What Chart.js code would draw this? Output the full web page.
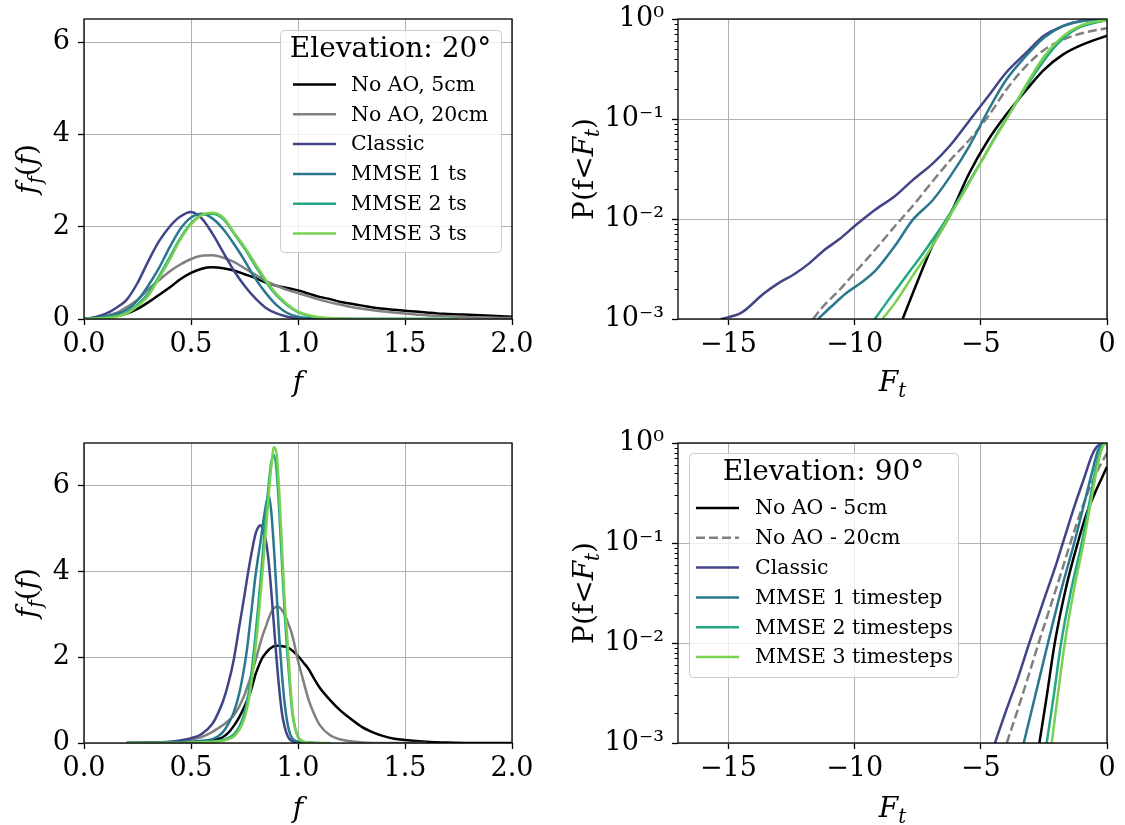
<!DOCTYPE html>
<html>
<head>
<meta charset="utf-8">
<script src="https://cdn.jsdelivr.net/npm/chart.js@4.4.1/dist/chart.umd.min.js"></script>
<style>
  html, body { margin: 0; padding: 0; background: #fff; }
  #wrap { position: relative; width: 1125px; height: 825px; }
  canvas { position: absolute; }
</style>
</head>
<body>
<div id="wrap">
  <canvas id="pdf20" width="562" height="412" style="left:0;top:0"></canvas>
  <canvas id="cdf20" width="563" height="412" style="left:562px;top:0"></canvas>
  <canvas id="pdf90" width="562" height="413" style="left:0;top:412px"></canvas>
  <canvas id="cdf90" width="563" height="413" style="left:562px;top:412px"></canvas>
</div>
<script>
// Legend names and colours (black, grey, then viridis picks for the AO cases)
const names20 = ["No AO, 5cm", "No AO, 20cm", "Classic", "MMSE 1 ts", "MMSE 2 ts", "MMSE 3 ts"];
const names90 = ["No AO - 5cm", "No AO - 20cm", "Classic", "MMSE 1 timestep", "MMSE 2 timesteps", "MMSE 3 timesteps"];
const seriesColors = ["#000000", "#808080", "#414487", "#2a788e", "#22a884", "#7ad151"];

// Tick values
const pdfXTicks = [0, 0.5, 1.0, 1.5, 2.0];
const pdfYTicks = [0, 2, 4, 6];
const cdfXTicks = [-15, -10, -5, 0];
const cdfYTicks = [0.001, 0.01, 0.1, 1];

// ---- PDF, elevation 20 deg ----
const pdfGrid20 = [0.00, 0.05, 0.10, 0.15, 0.20, 0.25, 0.30, 0.35, 0.40, 0.45, 0.50, 0.55, 0.60, 0.65, 0.70, 0.75, 0.80, 0.85, 0.90, 0.95,
  1.00, 1.05, 1.10, 1.15, 1.20, 1.25, 1.30, 1.35, 1.40, 1.45, 1.50, 1.55, 1.60, 1.65, 1.70, 1.75, 1.80, 1.85, 1.90, 1.95, 2.00];
const pdfBlack20 = [0, 0.02, 0.04, 0.07, 0.12, 0.22, 0.36, 0.52, 0.68, 0.86, 1.00, 1.09, 1.12, 1.10, 1.05, 0.97, 0.89, 0.79, 0.72, 0.67,
  0.62, 0.55, 0.48, 0.43, 0.37, 0.33, 0.29, 0.25, 0.22, 0.20, 0.18, 0.16, 0.14, 0.12, 0.11, 0.10, 0.09, 0.08, 0.07, 0.06, 0.05];
const pdfGray20 = [0, 0.02, 0.06, 0.13, 0.26, 0.42, 0.64, 0.84, 1.03, 1.18, 1.30, 1.37, 1.38, 1.33, 1.24, 1.10, 0.96, 0.82, 0.72, 0.63,
  0.56, 0.49, 0.42, 0.36, 0.31, 0.26, 0.22, 0.19, 0.16, 0.14, 0.12, 0.10, 0.08, 0.07, 0.06, 0.05, 0.04, 0.03, 0.03, 0.02, 0.02];
const pdfClassic20 = [0, 0.04, 0.11, 0.24, 0.42, 0.78, 1.25, 1.68, 2.00, 2.22, 2.32, 2.18, 1.85, 1.45, 1.05, 0.72, 0.45, 0.24, 0.12, 0.05,
  0.02, 0.01, 0, 0, 0, 0, null, null, null, null, null, null, null, null, null, null, null, null, null, null, null];
const pdfMmse1_20 = [0, 0.02, 0.05, 0.11, 0.20, 0.40, 0.72, 1.10, 1.55, 1.95, 2.20, 2.28, 2.18, 1.95, 1.63, 1.27, 0.88, 0.56, 0.30, 0.13,
  0.05, 0.02, 0.01, 0, 0, 0, 0, 0, 0, 0, 0, 0, 0, 0, 0, 0, null, null, null, null, null];
const pdfMmse2_20 = [0, 0.01, 0.03, 0.06, 0.14, 0.31, 0.55, 0.92, 1.33, 1.75, 2.07, 2.25, 2.28, 2.17, 1.86, 1.53, 1.16, 0.80, 0.51, 0.30,
  0.15, 0.07, 0.03, 0.01, 0, 0, 0, 0, 0, 0, 0, 0, 0, 0, 0, 0, null, null, null, null, null];
const pdfMmse3_20 = [0, 0.01, 0.02, 0.05, 0.12, 0.28, 0.50, 0.88, 1.28, 1.72, 2.05, 2.25, 2.30, 2.20, 1.88, 1.56, 1.20, 0.84, 0.54, 0.32,
  0.16, 0.08, 0.04, 0.02, 0.01, 0, 0, 0, 0, 0, 0, 0, 0, 0, 0, 0, null, null, null, null, null];

// ---- PDF, elevation 90 deg (bottom-left panel) ----
const pdfGrid90 = [0.20, 0.30, 0.40, 0.45, 0.50, 0.55, 0.60, 0.625, 0.65, 0.675, 0.70, 0.725, 0.75, 0.7625, 0.775, 0.7875,
  0.80, 0.8125, 0.825, 0.8375, 0.85, 0.8625, 0.875, 0.8875, 0.90, 0.9125, 0.925, 0.9375, 0.95, 0.9625, 0.975,
  1.00, 1.025, 1.05, 1.075, 1.10, 1.15, 1.20, 1.25, 1.30, 1.35, 1.40, 1.45, 1.50, 1.60, 1.70, 1.80, 1.90, 2.00];
const pdfBlack90 = [0, 0, 0.01, 0.01, 0.02, 0.03, 0.06, 0.09, 0.14, 0.24, 0.40, 0.60, 0.85, 1.00, 1.15, 1.35,
  1.58, 1.75, 1.90, 2.02, 2.10, 2.17, 2.22, 2.26, 2.27, 2.27, 2.26, 2.25, 2.23, 2.20, 2.15,
  2.03, 1.88, 1.72, 1.50, 1.30, 1.00, 0.75, 0.55, 0.37, 0.25, 0.16, 0.10, 0.07, 0.03, 0.01, 0, 0, 0];
const pdfGray90 = [0, 0.01, 0.02, 0.04, 0.08, 0.14, 0.26, 0.34, 0.42, 0.52, 0.65, 0.85, 1.12, 1.30, 1.48, 1.68,
  1.90, 2.12, 2.35, 2.55, 2.72, 2.90, 3.05, 3.14, 3.18, 3.17, 3.10, 3.00, 2.85, 2.68, 2.48,
  1.92, 1.45, 1.00, 0.68, 0.43, 0.18, 0.08, 0.04, 0.01, 0, 0, 0, 0, 0, null, null, null, null];
const pdfClassic90 = [0, 0.01, 0.03, 0.06, 0.11, 0.21, 0.45, 0.68, 0.98, 1.40, 1.95, 2.70, 3.45, 3.85, 4.22, 4.55,
  4.85, 5.02, 5.08, 4.95, 4.72, 4.25, 3.55, 2.75, 1.95, 1.25, 0.70, 0.38, 0.18, 0.08, 0.04,
  0.01, 0, 0, 0, null, null, null, null, null, null, null, null, null, null, null, null, null, null];
const pdfMmse1_90 = [0, 0, 0.01, 0.02, 0.03, 0.05, 0.09, 0.15, 0.26, 0.45, 0.72, 1.15, 1.80, 2.22, 2.75, 3.30,
  3.85, 4.30, 4.70, 5.15, 5.55, 5.80, 5.40, 4.55, 3.50, 2.45, 1.60, 0.93, 0.48, 0.22, 0.10,
  0.03, 0.01, 0, 0, null, null, null, null, null, null, null, null, null, null, null, null, null, null];
const pdfMmse2_90 = [0, 0, 0, 0, 0.01, 0.02, 0.03, 0.05, 0.07, 0.12, 0.20, 0.38, 0.70, 0.98, 1.35, 1.85,
  2.45, 3.10, 3.80, 4.55, 5.30, 6.00, 6.55, 6.72, 6.35, 5.40, 4.20, 3.05, 2.10, 1.30, 0.65,
  0.14, 0.03, 0.01, 0, 0, null, null, null, null, null, null, null, null, null, null, null, null, null];
const pdfMmse3_90 = [0, 0, 0, 0, 0.01, 0.02, 0.03, 0.04, 0.05, 0.09, 0.15, 0.30, 0.58, 0.82, 1.15, 1.60,
  2.15, 2.75, 3.45, 4.20, 4.95, 5.75, 6.45, 6.90, 6.75, 5.85, 4.60, 3.35, 2.45, 1.50, 0.70,
  0.15, 0.04, 0.01, 0, 0, 0, null, null, null, null, null, null, null, null, null, null, null, null];

// ---- CDF, elevation 20 deg (top-right panel): F_t and P(f<F_t) ----
const cdfBlack20F = [-8.1, -7.7, -7.2, -6.9, -6.3, -5.45, -4.7, -4.0, -3.2, -2.5, -1.75, -1.0, 0];
const cdfBlack20P = [0.001, 0.0018, 0.0037, 0.0055, 0.010, 0.029, 0.062, 0.11, 0.195, 0.31, 0.44, 0.55, 0.68];
const cdfGray20F = [-11.65, -11.2, -10.6, -10.0, -9.2, -8.4, -7.7, -6.9, -6.2, -5.45, -4.7, -4.0, -3.2, -2.5, -1.75, -1.0, 0];
const cdfGray20P = [0.001, 0.00138, 0.00195, 0.0029, 0.0049, 0.0085, 0.0135, 0.024, 0.039, 0.062, 0.107, 0.195, 0.34, 0.49, 0.62, 0.72, 0.81];
const cdfClassic20F = [-15.3, -14.5, -13.6, -13.0, -12.4, -11.8, -11.2, -10.6, -10.0, -9.2, -8.4, -7.7, -6.9, -6.2, -5.5, -4.7, -4.0, -3.2, -2.5, -1.75, -1.0, 0];
const cdfClassic20P = [0.001, 0.00115, 0.0018, 0.0023, 0.0028, 0.0036, 0.0049, 0.0063, 0.0085, 0.0123, 0.017, 0.0245, 0.036, 0.055, 0.093, 0.17, 0.29, 0.46, 0.68, 0.85, 0.96, 1.0];
const cdfMmse1_20F = [-11.45, -10.9, -10.35, -9.75, -9.15, -8.4, -7.7, -6.9, -6.2, -5.45, -4.7, -4.0, -3.2, -2.5, -1.75, -1.0, 0];
const cdfMmse1_20P = [0.001, 0.00135, 0.0018, 0.0023, 0.0031, 0.0054, 0.0098, 0.0155, 0.027, 0.054, 0.123, 0.245, 0.43, 0.65, 0.85, 0.95, 0.99];
const cdfMmse2_20F = [-9.2, -8.7, -8.0, -7.3, -6.5, -5.8, -5.0, -4.3, -3.6, -2.8, -2.0, -1.2, 0];
const cdfMmse2_20P = [0.001, 0.0015, 0.0026, 0.0045, 0.0088, 0.017, 0.037, 0.075, 0.145, 0.30, 0.55, 0.80, 0.98];
const cdfMmse3_20F = [-8.9, -8.4, -7.7, -7.0, -6.3, -5.5, -4.7, -4.0, -3.2, -2.5, -1.75, -1.0, 0];
const cdfMmse3_20P = [0.001, 0.00145, 0.0027, 0.0050, 0.0100, 0.022, 0.05, 0.098, 0.22, 0.42, 0.67, 0.87, 0.98];

// ---- CDF, elevation 90 deg (bottom-right panel) ----
const cdfBlack90F = [-2.68, -2.4, -2.07, -1.6, -1.16, -0.8, -0.4, -0.2, 0];
const cdfBlack90P = [0.001, 0.0028, 0.010, 0.038, 0.10, 0.20, 0.35, 0.45, 0.58];
const cdfGray90F = [-3.97, -3.5, -3.0, -2.71, -2.2, -1.8, -1.45, -1.0, -0.6, -0.3, 0];
const cdfGray90P = [0.001, 0.0023, 0.0058, 0.010, 0.025, 0.052, 0.10, 0.22, 0.40, 0.58, 0.79];
const cdfClassic90F = [-4.44, -4.0, -3.5, -3.08, -2.5, -2.0, -1.75, -1.25, -0.9, -0.6, -0.4, -0.2, 0];
const cdfClassic90P = [0.001, 0.0021, 0.0047, 0.010, 0.027, 0.063, 0.10, 0.25, 0.45, 0.75, 0.92, 0.98, 1.0];
const cdfMmse1_90F = [-3.3, -2.8, -2.34, -1.8, -1.3, -0.9, -0.6, -0.35, -0.15, 0];
const cdfMmse1_90P = [0.001, 0.0033, 0.010, 0.035, 0.10, 0.25, 0.50, 0.85, 0.98, 1.0];
const cdfMmse2_90F = [-2.39, -2.1, -1.82, -1.4, -1.0, -0.7, -0.45, -0.25, -0.1, 0];
const cdfMmse2_90P = [0.001, 0.0031, 0.010, 0.036, 0.10, 0.25, 0.55, 0.88, 0.98, 1.0];
const cdfMmse3_90F = [-2.19, -1.95, -1.67, -1.3, -0.93, -0.65, -0.4, -0.2, -0.08, 0];
const cdfMmse3_90P = [0.001, 0.003, 0.010, 0.035, 0.10, 0.25, 0.55, 0.88, 0.98, 1.0];

Chart.defaults.font.family = "'DejaVu Serif', serif";
Chart.defaults.color = "#000";

const LINE_W = 2.5;
const SUP = { "-": "\u207B", "0": "\u2070", "1": "\u00B9", "2": "\u00B2", "3": "\u00B3" };
function powLabel(v) {
  const e = Math.round(Math.log10(v));
  return "10" + String(e).split("").map((c) => SUP[c]).join("");
}

// Draw a label made of pieces: "" upright, "i" italic, "s" italic subscript
function drawRich(ctx, parts, cx, cy, size, vertical) {
  const fontOf = (p) => (p[1] ? "italic " : "") + (p[1] === "s" ? size * 0.7 : size) + "px 'DejaVu Serif'";
  ctx.save();
  ctx.translate(cx, cy);
  if (vertical) ctx.rotate(-Math.PI / 2);
  let total = 0;
  const widths = parts.map((p) => {
    ctx.font = fontOf(p);
    const w = ctx.measureText(p[0]).width;
    total += w;
    return w;
  });
  let x = -total / 2;
  ctx.fillStyle = "#000";
  ctx.textBaseline = "alphabetic";
  parts.forEach((p, i) => {
    ctx.font = fontOf(p);
    ctx.fillText(p[0], x, size * 0.36 + (p[1] === "s" ? size * 0.22 : 0));
    x += widths[i];
  });
  ctx.restore();
}

// Spines, minor log ticks and axis titles
const framePlugin = {
  id: "frame",
  afterDatasetsDraw(chart, args, opts) {
    const a = chart.chartArea;
    const ctx = chart.ctx;
    ctx.save();
    ctx.strokeStyle = "#000";
    ctx.lineWidth = 1.3;
    ctx.strokeRect(a.left, a.top, a.right - a.left, a.bottom - a.top);
    if (opts.logY) {
      const y = chart.scales.y;
      ctx.lineWidth = 1;
      for (let k = -3; k < 0; k++) {
        for (let m = 2; m <= 9; m++) {
          const py = Math.round(y.getPixelForValue(m * Math.pow(10, k))) + 0.5;
          ctx.beginPath();
          ctx.moveTo(a.left - 3.5, py);
          ctx.lineTo(a.left, py);
          ctx.stroke();
        }
      }
    }
    ctx.restore();
    drawRich(ctx, opts.xTitle, (a.left + a.right) / 2, a.bottom + opts.xTitleGap, 28, false);
    drawRich(ctx, opts.yTitle, a.left - opts.yTitleGap, (a.top + a.bottom) / 2, 28, true);
  },
};

// matplotlib-like legend box with a title, drawn inside the axes
const boxLegendPlugin = {
  id: "boxLegend",
  afterDraw(chart, args, o) {
    if (!o.title) return;
    const a = chart.chartArea;
    const ctx = chart.ctx;
    const left = o.align === "right" ? a.right - o.inset - o.width : a.left + o.inset;
    const top = a.top + o.insetTop;
    ctx.save();
    ctx.beginPath();
    ctx.roundRect(left + 0.5, top + 0.5, o.width, o.height, 4);
    ctx.fillStyle = "rgba(255,255,255,0.8)";
    ctx.fill();
    ctx.strokeStyle = "#cccccc";
    ctx.lineWidth = 1;
    ctx.stroke();
    ctx.fillStyle = "#000";
    ctx.font = "28px 'DejaVu Serif'";
    ctx.textAlign = "center";
    ctx.textBaseline = "middle";
    ctx.fillText(o.title, left + o.width / 2, top + 20);
    ctx.font = "20.5px 'DejaVu Serif'";
    ctx.textAlign = "left";
    chart.data.datasets.forEach((ds, i) => {
      const y = top + o.firstRow + i * o.rowGap;
      ctx.beginPath();
      ctx.setLineDash(ds.borderDash || []);
      ctx.strokeStyle = ds.borderColor;
      ctx.lineWidth = LINE_W;
      ctx.moveTo(left + o.lineX0, y);
      ctx.lineTo(left + o.lineX1, y);
      ctx.stroke();
      ctx.setLineDash([]);
      ctx.fillText(ds.label, left + o.textX, y + 1);
    });
    ctx.restore();
  },
};

function buildDatasets(names, xs, ys, dashGray) {
  return names.map((name, i) => ({
    label: name,
    data: xs[i].map((x, j) => ({ x: x, y: ys[i][j] })),
    borderColor: seriesColors[i],
    borderWidth: LINE_W,
    borderDash: dashGray && i === 1 ? [9, 4] : [],
    borderJoinStyle: "round",
    pointRadius: 0,
    cubicInterpolationMode: "monotone",
    spanGaps: false,
    order: names.length - i,
  }));
}

function axis(type, min, max, tickValues, fmt, size, pad) {
  return {
    type: type,
    min: min,
    max: max,
    bounds: "data",
    afterBuildTicks: (s) => {
      s.ticks = tickValues.map((v) => ({ value: v }));
    },
    afterFit: (s) => {
      if (size.w) s.width = size.w;
      if (size.h) s.height = size.h;
      s.paddingLeft = s.paddingRight = s.paddingTop = s.paddingBottom = 0;
    },
    grid: { color: "#b0b0b0", lineWidth: 1, tickColor: "#000", tickLength: 6, tickWidth: 1.3 },
    border: { display: false },
    ticks: { font: { size: 27 }, color: "#000", padding: pad, autoSkip: false, maxRotation: 0, callback: fmt },
  };
}

function makeChart(id, datasets, xAxis, yAxis, padding, frame, legend) {
  return new Chart(document.getElementById(id), {
    type: "line",
    data: { datasets: datasets },
    options: {
      responsive: false,
      animation: false,
      events: [],
      layout: { padding: padding },
      scales: { x: xAxis, y: yAxis },
      plugins: {
        legend: { display: false },
        tooltip: { enabled: false },
        frame: frame,
        boxLegend: legend || {},
      },
    },
    plugins: [framePlugin, boxLegendPlugin],
  });
}

const fmtPdfX = (v) => v.toFixed(1);
const fmtInt = (v) => String(v).replace("-", "\u2212");
const pdfXTitle = [["f", "i"]];
const pdfYTitle = [["f", "i"], ["f", "s"], ["(", ""], ["f", "i"], [")", ""]];
const cdfXTitle = [["F", "i"], ["t", "s"]];
const cdfYTitle = [["P(f<", ""], ["F", "i"], ["t", "s"], [")", ""]];

const grid20 = names20.map(() => pdfGrid20);
const grid90 = names90.map(() => pdfGrid90);

makeChart("pdf20",
  buildDatasets(names20, grid20, [pdfBlack20, pdfGray20, pdfClassic20, pdfMmse1_20, pdfMmse2_20, pdfMmse3_20], false),
  axis("linear", 0, 2, pdfXTicks, fmtPdfX, { h: 93 }, 4),
  axis("linear", 0, 6.5, pdfYTicks, fmtInt, { w: 84 }, 8),
  { top: 19, right: 50, left: 0, bottom: 0 },
  { xTitle: pdfXTitle, yTitle: pdfYTitle, xTitleGap: 62, yTitleGap: 58 },
  { title: "Elevation: 20°", align: "right", inset: 11, insetTop: 11, width: 221, height: 222,
    firstRow: 54.5, rowGap: 29.8, lineX0: 13, lineX1: 56, textX: 71 });

makeChart("cdf20",
  buildDatasets(names20,
    [cdfBlack20F, cdfGray20F, cdfClassic20F, cdfMmse1_20F, cdfMmse2_20F, cdfMmse3_20F],
    [cdfBlack20P, cdfGray20P, cdfClassic20P, cdfMmse1_20P, cdfMmse2_20P, cdfMmse3_20P], true),
  axis("linear", -17, 0, cdfXTicks, fmtInt, { h: 93 }, 4),
  axis("logarithmic", 0.001, 1, cdfYTicks, powLabel, { w: 116 }, 8),
  { top: 19, right: 18, left: 0, bottom: 0 },
  { xTitle: cdfXTitle, yTitle: cdfYTitle, xTitleGap: 62, yTitleGap: 95, logY: true });

makeChart("pdf90",
  buildDatasets(names90, grid90, [pdfBlack90, pdfGray90, pdfClassic90, pdfMmse1_90, pdfMmse2_90, pdfMmse3_90], false),
  axis("linear", 0, 2, pdfXTicks, fmtPdfX, { h: 82 }, 4),
  axis("linear", 0, 7, pdfYTicks, fmtInt, { w: 84 }, 8),
  { top: 31, right: 50, left: 0, bottom: 0 },
  { xTitle: pdfXTitle, yTitle: pdfYTitle, xTitleGap: 64, yTitleGap: 58 });

makeChart("cdf90",
  buildDatasets(names90,
    [cdfBlack90F, cdfGray90F, cdfClassic90F, cdfMmse1_90F, cdfMmse2_90F, cdfMmse3_90F],
    [cdfBlack90P, cdfGray90P, cdfClassic90P, cdfMmse1_90P, cdfMmse2_90P, cdfMmse3_90P], true),
  axis("linear", -17, 0, cdfXTicks, fmtInt, { h: 82 }, 4),
  axis("logarithmic", 0.001, 1, cdfYTicks, powLabel, { w: 116 }, 8),
  { top: 31, right: 18, left: 0, bottom: 0 },
  { xTitle: cdfXTitle, yTitle: cdfYTitle, xTitleGap: 64, yTitleGap: 95, logY: true },
  { title: "Elevation: 90°", align: "left", inset: 11, insetTop: 10, width: 269, height: 224,
    firstRow: 55, rowGap: 29.8, lineX0: 7, lineX1: 50, textX: 66 });
</script>
</body>
</html>
